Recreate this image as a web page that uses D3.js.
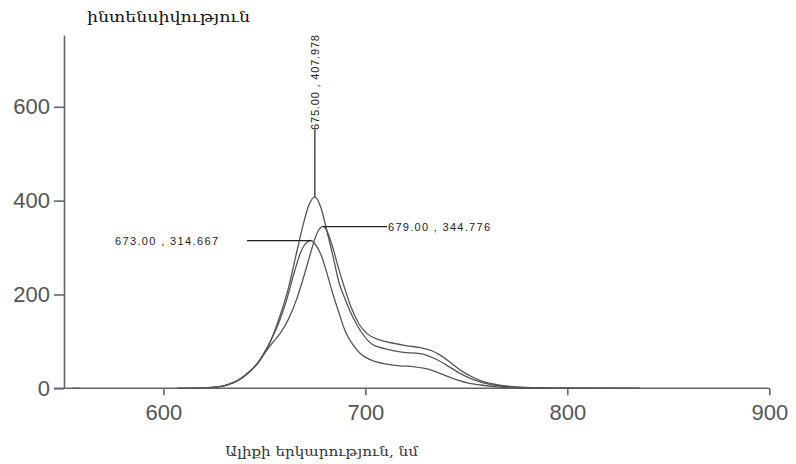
<!DOCTYPE html>
<html>
<head>
<meta charset="utf-8">
<script src="https://cdn.jsdelivr.net/npm/d3@7"></script>
<style>
  body { margin: 0; background: #fff; }
  svg { display: block; }
</style>
</head>
<body>
<div id="chart"></div>
<script>
// spectra data (wavelength nm, intensity)
var wavelengthA = [607, 620, 627, 632, 637, 642, 647, 652, 657, 662, 666, 669, 672, 675, 678, 681, 684, 687, 690, 694, 698, 703, 710, 718, 727, 734, 740, 746, 752, 758, 765, 772, 780, 800, 836];
var intensityA  = [0, 1, 3, 8, 17, 33, 55, 90, 145, 215, 290, 345, 390, 408, 385, 335, 281, 225, 190, 150, 120, 95, 84, 77, 74, 64, 50, 34, 21, 12, 6, 3, 1, 0, 0];

var wavelengthB = [607, 620, 627, 632, 637, 642, 647, 651, 654, 658, 662, 666, 670, 673, 676, 679, 681, 684, 687, 690, 693, 697, 701, 707, 714, 720, 728, 733, 738, 743, 748, 753, 758, 765, 772, 780, 790, 836];
var intensityB  = [0, 1, 3, 8, 17, 32, 55, 80, 97, 118, 148, 190, 245, 290, 330, 345, 335, 298, 252, 210, 172, 136, 116, 103, 96, 91, 86, 80, 68, 52, 36, 24, 15, 8, 4, 2, 1, 0];

var wavelengthC = [607, 620, 627, 632, 637, 642, 647, 652, 657, 661, 665, 668, 671, 673, 675, 678, 681, 684, 687, 690, 694, 698, 703, 710, 717, 724, 732, 738, 744, 750, 757, 765, 772, 780, 836];
var intensityC  = [0, 1, 3, 8, 17, 33, 56, 92, 138, 188, 250, 290, 311, 315, 308, 285, 245, 200, 160, 122, 92, 72, 60, 52, 48, 46, 40, 30, 20, 12, 7, 3, 1, 0, 0];

// short stray segment at the left end of the baseline
var strayWavelength = [555, 559];
var strayIntensity = [0, 0];

var xTicks = [600, 700, 800, 900];
var yTicks = [0, 200, 400, 600];

var peakLabels = ["675.00 , 407.978", "679.00 , 344.776", "673.00 , 314.667"];
var peakX = [675, 679, 673];
var peakY = [407.978, 344.776, 314.667];

var yTitle = "ինտենսիվություն";
var xTitle = "Ալիքի երկարություն, նմ";

var svgWidth = 796;
var svgHeight = 464;

var svg = d3.select("#chart")
  .append("svg")
  .attr("width", svgWidth)
  .attr("height", svgHeight);

var x = d3.scaleLinear().domain([550.8, 900]).range([64, 769.3]);
var y = d3.scaleLinear().domain([0, 753]).range([388.3, 35]);

var axisColor = "#666";
var labelFont = "'Liberation Sans', Arial, sans-serif";

// x axis
var xAxis = svg.append("g")
  .attr("transform", "translate(0," + y(0) + ")")
  .call(d3.axisBottom(x).tickValues(xTicks).tickSize(7).tickSizeOuter(0).tickPadding(9));
xAxis.select(".domain").attr("stroke", axisColor).attr("stroke-width", 1.6)
  .attr("d", "M" + (x.range()[0] - 10) + ",0H" + x.range()[1]);
xAxis.selectAll(".tick line").attr("stroke", axisColor).attr("stroke-width", 1.6);
xAxis.selectAll(".tick text").attr("fill", "#555").style("font-family", labelFont).style("font-size", "22px");

// y axis
var yAxis = svg.append("g")
  .attr("transform", "translate(" + x.range()[0] + ",0)")
  .call(d3.axisLeft(y).tickValues(yTicks).tickSize(10).tickSizeOuter(0).tickPadding(4));
yAxis.select(".domain").attr("stroke", axisColor).attr("stroke-width", 1.6);
yAxis.selectAll(".tick line").attr("stroke", axisColor).attr("stroke-width", 1.6);
yAxis.selectAll(".tick text").attr("fill", "#555").style("font-family", labelFont).style("font-size", "22px");

// curves
function toPoints(xs, ys) {
  return xs.map(function(d, i) { return [d, ys[i]]; });
}

var line = d3.line()
  .x(d => x(d[0]))
  .y(d => y(d[1]))
  .curve(d3.curveMonotoneX);

var series = [
  toPoints(wavelengthA, intensityA),
  toPoints(wavelengthB, intensityB),
  toPoints(wavelengthC, intensityC),
  toPoints(strayWavelength, strayIntensity)
];

svg.append("g").selectAll("path")
  .data(series)
  .enter()
  .append("path")
  .attr("d", line)
  .attr("fill", "none")
  .attr("stroke", "#555")
  .attr("stroke-width", 1.3);

// peak annotations
var annColor = "#222";
var annFont = "11px " + labelFont;

// 675 - vertical leader with rotated text
svg.append("line")
  .attr("x1", x(peakX[0])).attr("y1", y(peakY[0]))
  .attr("x2", x(peakX[0])).attr("y2", 130)
  .attr("stroke", annColor).attr("stroke-width", 1.2);
svg.append("text")
  .attr("transform", "translate(" + (x(peakX[0]) + 4) + ",130) rotate(-90)")
  .attr("textLength", 95).attr("lengthAdjust", "spacing")
  .style("font", annFont)
  .attr("fill", annColor)
  .text(peakLabels[0]);

// 679 - leader to the right
svg.append("line")
  .attr("x1", x(peakX[1])).attr("y1", y(peakY[1]))
  .attr("x2", 387).attr("y2", y(peakY[1]))
  .attr("stroke", annColor).attr("stroke-width", 1.2);
svg.append("text")
  .attr("x", 388).attr("y", y(peakY[1]) + 4)
  .attr("textLength", 102).attr("lengthAdjust", "spacing")
  .style("font", annFont)
  .attr("fill", annColor)
  .text(peakLabels[1]);

// 673 - leader to the left
svg.append("line")
  .attr("x1", x(peakX[2])).attr("y1", y(peakY[2]))
  .attr("x2", 247).attr("y2", y(peakY[2]))
  .attr("stroke", annColor).attr("stroke-width", 1.2);
svg.append("text")
  .attr("x", 115).attr("y", y(peakY[2]) + 4)
  .attr("textLength", 103).attr("lengthAdjust", "spacing")
  .style("font", annFont)
  .attr("fill", annColor)
  .text(peakLabels[2]);

// axis titles
svg.append("text")
  .attr("x", 87).attr("y", 22)
  .attr("textLength", 163).attr("lengthAdjust", "spacingAndGlyphs")
  .style("font-family", "'DejaVu Serif', 'DejaVu Sans', serif")
  .style("font-size", "15px")
  .attr("fill", "#111")
  .text(yTitle);

svg.append("text")
  .attr("x", 225).attr("y", 456)
  .attr("textLength", 193).attr("lengthAdjust", "spacingAndGlyphs")
  .style("font-family", "'DejaVu Serif', 'DejaVu Sans', serif")
  .style("font-size", "13px")
  .attr("fill", "#333")
  .text(xTitle);
</script>
</body>
</html>
